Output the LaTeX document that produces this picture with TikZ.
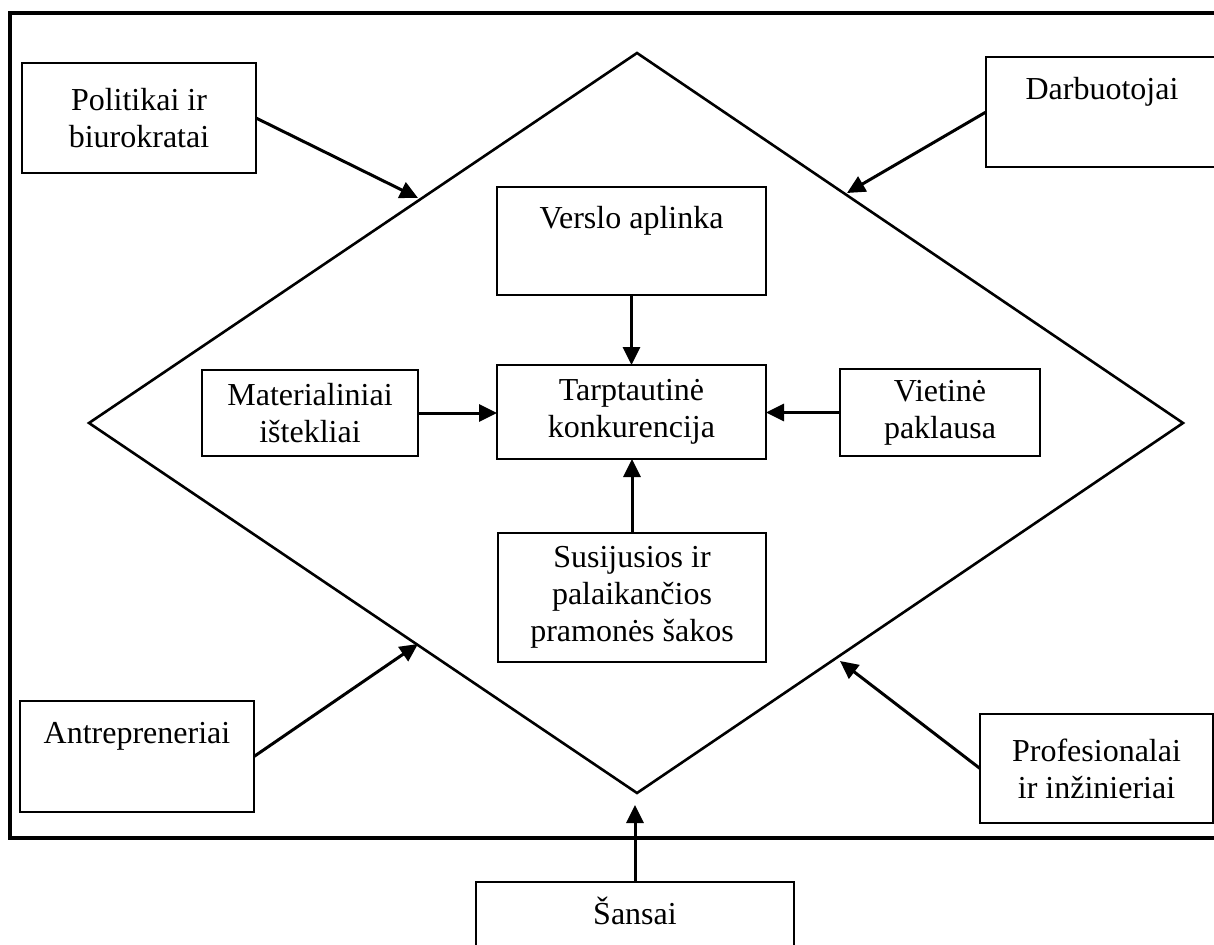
\documentclass[tikz,border=0pt]{standalone}
\usepackage{fontspec}
\setmainfont{Liberation Serif}
\usetikzlibrary{arrows.meta}
\begin{document}
\begin{tikzpicture}[x=1pt,y=-1pt,
  box/.style={draw, line width=1.5pt, inner sep=0pt, outer sep=0pt,
    align=center, font=\fontsize{32}{37}\selectfont},
  arr/.style={line width=3pt, -{Triangle[length=18pt,width=17pt]}},
  frame/.style={line width=3.2pt},
  rhomb/.style={line width=2.6pt, line join=miter},
]
\useasboundingbox (0,0) rectangle (1214,944);
\clip (0,0) rectangle (1214,944);

% outer frame (open on the right)
\draw[frame] (1230,13) -- (10,13) -- (10,838) -- (1230,838);

% the diamond
\coordinate (T) at (637,53);
\coordinate (L) at (89,423);
\coordinate (R) at (1183,423);
\coordinate (B) at (637,793);
\draw[rhomb] (T) -- (R) -- (B) -- (L) -- cycle;

% inner boxes
\node[box, minimum width=269pt, minimum height=108pt] (ver) at (631.5,241) {Verslo aplinka\\[10pt]\mbox{}};
\node[box, minimum width=269pt, minimum height=94pt] (tar) at (631.5,412) {Tarptautinė\\konkurencija};
\node[box, minimum width=216pt, minimum height=86pt] (mat) at (310,413) {Materialiniai\\ištekliai};
\node[box, minimum width=200pt, minimum height=87pt] (vie) at (940,412.5) {Vietinė\\paklausa};
\node[box, minimum width=268pt, minimum height=129pt] (sus) at (632,597.5) {Susijusios ir\\palaikančios\\pramonės šakos};

% outer boxes
\node[box, minimum width=234pt, minimum height=110pt] (pol) at (139,118) {Politikai ir\\biurokratai};
\node[box, minimum width=232pt, minimum height=110pt] (dar) at (1102,112) {Darbuotojai\\[10pt]\mbox{}};
\node[box, minimum width=234pt, minimum height=111pt] (ant) at (137,756.5) {Antrepreneriai\\[10pt]\mbox{}};
\node[box, minimum width=233pt, minimum height=109pt] (pro) at (1096.5,768.5) {Profesionalai\\ir inžinieriai};
\node[box, minimum width=318pt, minimum height=110pt] (san) at (635,937) {Šansai\\[16pt]\mbox{}};

% arrow ends on the diamond
\coordinate (tpol) at (418,198);
\coordinate (tdar) at (847,193);
\coordinate (tant) at (418,644);
\coordinate (tpro) at (840,661);
\coordinate (tsan) at (635,805);

% inner arrows
\draw[arr] (ver.south) -- (tar.north);
\draw[arr] (sus.north) -- (sus.north |- tar.south);
\draw[arr] (mat.east) -- (mat.east -| tar.west);
\draw[arr] (vie.west) -- (vie.west -| tar.east);

% outer arrows
\draw[arr] (pol.east) -- (tpol);
\draw[arr] (dar.west) -- (tdar);
\draw[arr] (ant.east) -- (tant);
\draw[arr] (pro.west) -- (tpro);
\draw[arr] (san.north) -- (tsan);
\end{tikzpicture}
\end{document}
